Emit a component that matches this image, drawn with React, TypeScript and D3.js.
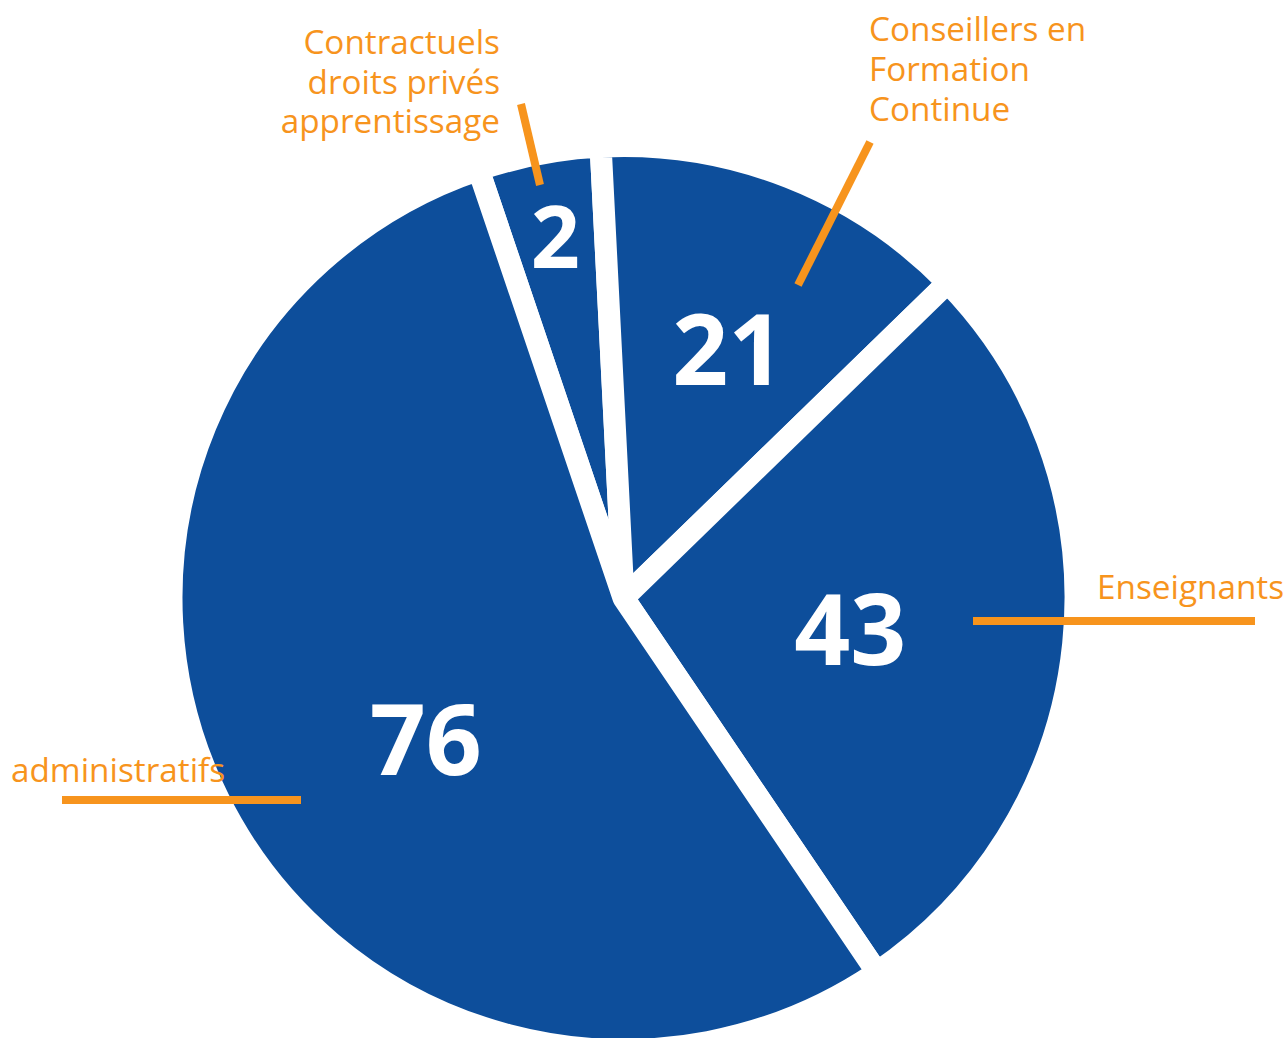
import React from "react";
import * as d3 from "d3";

// ---- data ----
const categories = [
  "Contractuels droits privés apprentissage",
  "Conseillers en Formation Continue",
  "Enseignants",
  "administratifs",
];
const counts = [2, 21, 43, 76];
// slice sizes as drawn in the picture (degrees of the circle)
const sliceDegrees = [15.8, 48.7, 100.1, 195.4];
const labelLines = [
  ["Contractuels", "droits privés", "apprentissage"],
  ["Conseillers en", "Formation", "Continue"],
  ["Enseignants"],
  ["administratifs"],
];

// ---- layout ----
const W = 1284;
const H = 1038;
const CX = 623.5;
const CY = 598;
const R = 452;
const GAP = 22;
const START_DEG = -18.7;
const BLUE = "#0d4e9b";
const ORANGE = "#f7941d";
const FONT = "'Open Sans', 'Noto Sans', sans-serif";

// value label placement (radius px, angle deg clockwise from top, font size)
const valueLabelLayout = [
  { r: 367, a: -10.7, fs: 86 },
  { r: 269, a: 22.9, fs: 98 },
  { r: 229, a: 98.0, fs: 98 },
  { r: 243.4, a: 234.3, fs: 98 },
];

// callouts (absolute px)
const calloutLayout = [
  { line: [521, 104, 540, 185], tx: 500, ty: 54, anchor: "end", lh: 39.5 },
  { line: [870, 142, 798, 285], tx: 869, ty: 41, anchor: "start", lh: 40 },
  { line: [973, 621, 1255, 621], tx: 1097, ty: 599, anchor: "start", lh: 40 },
  { line: [62, 800, 301, 800], tx: 11, ty: 782, anchor: "start", lh: 40 },
];

export default function App() {
  const rad = (d: number) => (d * Math.PI) / 180;
  const data = categories.map((c, i) => ({ c, count: counts[i], deg: sliceDegrees[i], i }));
  const pie = d3
    .pie<any>()
    .value((d) => d.deg)
    .sort(null)
    .startAngle(rad(START_DEG))
    .endAngle(rad(START_DEG) + Math.PI * 2);
  const arcs = pie(data);
  const arc = d3.arc<any>().innerRadius(0).outerRadius(R);

  return (
    <div style={{ position: "absolute", left: 0, top: 0 }}>
      <svg width={W} height={H} style={{ display: "block" }}>
        <rect width={W} height={H} fill="#ffffff" />
        <g transform={`translate(${CX},${CY})`}>
          {arcs.map((a, i) => (
            <path
              key={i}
              d={arc(a) as string}
              fill={BLUE}
              stroke="#ffffff"
              strokeWidth={GAP}
              strokeLinejoin="round"
            />
          ))}
          {arcs.map((a, i) => {
            const L = valueLabelLayout[i];
            const x = L.r * Math.sin(rad(L.a));
            const y = -L.r * Math.cos(rad(L.a));
            return (
              <text
                key={"v" + i}
                x={x}
                y={y + L.fs * 0.357}
                textAnchor="middle"
                fill="#ffffff"
                fontFamily={FONT}
                fontWeight={700}
                fontSize={L.fs}
              >
                {a.data.count}
              </text>
            );
          })}
        </g>
        {calloutLayout.map((c, i) => (
          <g key={"c" + i}>
            <line
              x1={c.line[0]}
              y1={c.line[1]}
              x2={c.line[2]}
              y2={c.line[3]}
              stroke={ORANGE}
              strokeWidth={8}
            />
            <text
              textAnchor={c.anchor as any}
              fill={ORANGE}
              fontFamily={FONT}
              fontSize={33.3}
            >
              {labelLines[i].map((t, j) => (
                <tspan key={j} x={c.tx} y={c.ty + j * c.lh}>
                  {t}
                </tspan>
              ))}
            </text>
          </g>
        ))}
      </svg>
    </div>
  );
}
